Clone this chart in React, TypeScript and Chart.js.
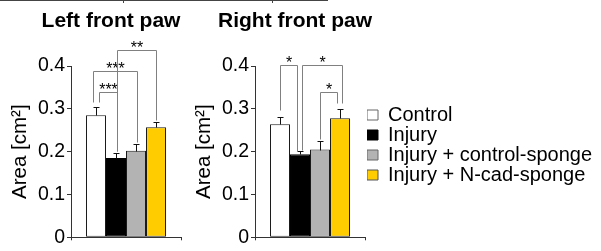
import React, { useEffect, useRef } from 'react';
import { Chart, registerables } from 'chart.js';

Chart.register(...registerables);

const categories = ['Control', 'Injury', 'Injury + control-sponge', 'Injury + N-cad-sponge'];
const leftMeans = [0.285, 0.185, 0.202, 0.257];
const leftErrors = [0.019, 0.011, 0.017, 0.013];
const rightMeans = [0.264, 0.194, 0.205, 0.278];
const rightErrors = [0.017, 0.008, 0.019, 0.021];
const yTickValues = [0, 0.1, 0.2, 0.3, 0.4];
const yTickLabels = ['0', '0.1', '0.2', '0.3', '0.4'];
const panelTitles = ['Left front paw', 'Right front paw'];
const yAxisTitle = 'Area [cm²]';

// significance brackets: bar indices, leg bottoms and top in data units, label
const leftBrackets = [
  { from: 0, to: 1, fromY: 0.317, toY: 0.202, topY: 0.339, label: '***' },
  { from: 0, to: 2, fromY: 0.317, toY: 0.222, topY: 0.388, label: '***' },
  { from: 1, to: 3, fromY: 0.202, toY: 0.275, topY: 0.437, label: '**' },
];
const rightBrackets = [
  { from: 0, to: 1, fromY: 0.298, toY: 0.202, topY: 0.402, label: '*' },
  { from: 1, to: 3, fromY: 0.203, toY: 0.314, topY: 0.402, label: '*' },
  { from: 2, to: 3, fromY: 0.229, toY: 0.314, topY: 0.339, label: '*' },
];

// styles
const leftNudges = [[3, 1], [-3, 1], [1, 0]];
const rightNudges = [[0, -3], [2, 2], [0, -3]];
const barColors = ['#ffffff', '#000000', '#b3b3b3', '#ffcc00'];
const barBorders = ['#1a1a1a', '#000000', '#1a1a1a', '#1a1a1a'];
const legendBorders = ['#666666', '#000000', '#666666', '#555555'];
const FAMILY = '"Liberation Sans", Arial, Helvetica, sans-serif';
const AXIS = '#333333';
const BRACKET = '#808080';

type Bracket = { from: number; to: number; fromY: number; toY: number; topY: number; label: string };

function makeOverlay(means: number[], errors: number[], brackets: Bracket[], nudges: number[][], title: string) {
  return {
    id: 'overlay',
    afterDatasetsDraw(chart: any) {
      const ctx = chart.ctx as CanvasRenderingContext2D;
      const ys = chart.scales.y;
      const px = (i: number) => chart.getDatasetMeta(i).data[0].x as number;
      const py = (v: number) => Math.round(ys.getPixelForValue(v)) + 0.5;
      ctx.save();
      ctx.strokeStyle = '#111111';
      ctx.lineWidth = 1;
      means.forEach((m, i) => {
        const x = Math.round(px(i)) + 0.5;
        const y0 = py(m);
        const y1 = py(m + errors[i]);
        ctx.beginPath();
        ctx.moveTo(x, y0);
        ctx.lineTo(x, y1);
        ctx.moveTo(x - 3, y1);
        ctx.lineTo(x + 3, y1);
        ctx.stroke();
      });
      brackets.forEach((b, k) => {
        const x1 = Math.round(px(b.from) + nudges[k][0]) + 0.5;
        const x2 = Math.round(px(b.to) + nudges[k][1]) + 0.5;
        const yt = py(b.topY);
        ctx.strokeStyle = BRACKET;
        ctx.beginPath();
        ctx.moveTo(x1, py(b.fromY));
        ctx.lineTo(x1, yt);
        ctx.lineTo(x2, yt);
        ctx.lineTo(x2, py(b.toY));
        ctx.stroke();
        ctx.fillStyle = '#000000';
        ctx.font = `16px ${FAMILY}`;
        ctx.textAlign = 'center';
        ctx.textBaseline = 'alphabetic';
        ctx.fillText(b.label, (x1 + x2) / 2, yt + 2);
      });
      ctx.restore();
    },
    afterDraw(chart: any) {
      const ctx = chart.ctx as CanvasRenderingContext2D;
      const area = chart.chartArea;
      ctx.save();
      ctx.fillStyle = '#000000';
      ctx.font = `bold 21px ${FAMILY}`;
      ctx.textAlign = 'center';
      ctx.textBaseline = 'alphabetic';
      ctx.fillText(title, (area.left + area.right) / 2 - 15, 27);
      ctx.restore();
    },
  };
}

function buildConfig(means: number[], errors: number[], brackets: Bracket[], nudges: number[][], title: string): any {
  return {
    type: 'bar',
    data: {
      labels: [''],
      datasets: categories.map((c, i) => ({
        label: c,
        data: [means[i]],
        backgroundColor: barColors[i],
        borderColor: barBorders[i],
        borderWidth: 1,
        borderSkipped: false,
        categoryPercentage: 0.727,
        barPercentage: 1,
      })),
    },
    options: {
      animation: false,
      responsive: false,
      maintainAspectRatio: false,
      layout: { padding: { top: 66, bottom: -1, left: 0, right: 19 } },
      plugins: {
        legend: { display: false },
        tooltip: { enabled: false },
        title: { display: false },
      },
      scales: {
        x: {
          type: 'category',
          grid: { display: true, drawOnChartArea: false, tickLength: 3, color: AXIS, offset: true },
          ticks: { display: false },
          border: { display: true, color: AXIS },
        },
        y: {
          min: 0,
          max: 0.4,
          afterBuildTicks: (s: any) => {
            s.ticks = yTickValues.map((v) => ({ value: v }));
          },
          afterFit: (s: any) => {
            s.width = 71;
          },
          ticks: {
            callback: (_v: any, i: number) => yTickLabels[i],
            color: '#000000',
            padding: 2,
            font: { size: 19.5, family: FAMILY },
          },
          grid: { drawOnChartArea: false, tickLength: 4, color: AXIS },
          border: { display: true, color: AXIS },
          title: {
            display: true,
            text: yAxisTitle,
            color: '#000000',
            font: { size: 20.5, family: FAMILY },
            padding: { top: 8, bottom: 0 },
          },
        },
      },
    },
    plugins: [makeOverlay(means, errors, brackets, nudges, title)],
  };
}

function legendConfig(): any {
  return {
    type: 'bar',
    data: { labels: [], datasets: [] },
    options: {
      animation: false,
      responsive: false,
      maintainAspectRatio: false,
      layout: { padding: { top: 105, left: 0, right: 0, bottom: 0 } },
      scales: { x: { display: false }, y: { display: false } },
      plugins: {
        tooltip: { enabled: false },
        legend: {
          display: true,
          position: 'left',
          align: 'start',
          onClick: () => {},
          labels: {
            boxWidth: 11,
            boxHeight: 10,
            padding: 0,
            color: '#000000',
            font: { size: 20, family: FAMILY },
            generateLabels: () =>
              categories.map((c, i) => ({
                text: c,
                fillStyle: barColors[i],
                strokeStyle: legendBorders[i],
                lineWidth: 1,
                hidden: false,
                index: i,
                fontColor: '#000000',
              })),
          },
        },
      },
    },
  };
}

export default function App() {
  const leftRef = useRef<HTMLCanvasElement | null>(null);
  const rightRef = useRef<HTMLCanvasElement | null>(null);
  const legendRef = useRef<HTMLCanvasElement | null>(null);

  useEffect(() => {
    const left = new Chart(leftRef.current as HTMLCanvasElement, buildConfig(leftMeans, leftErrors, leftBrackets, leftNudges, panelTitles[0]));
    const right = new Chart(rightRef.current as HTMLCanvasElement, buildConfig(rightMeans, rightErrors, rightBrackets, rightNudges, panelTitles[1]));
    const legend = new Chart(legendRef.current as HTMLCanvasElement, legendConfig());
    return () => {
      left.destroy();
      right.destroy();
      legend.destroy();
    };
  }, []);

  return (
    <div style={{ position: 'absolute', left: 0, top: 0, width: 601, height: 251, background: '#ffffff', overflow: 'hidden' }}>
      <div style={{ position: 'absolute', left: 0, top: 0, width: 328, height: 1, background: '#444444' }} />
      <div style={{ position: 'absolute', left: 123, top: 0, width: 1, height: 3, background: '#444444' }} />
      <div style={{ position: 'absolute', left: 272, top: 0, width: 1, height: 3, background: '#444444' }} />
      <canvas ref={leftRef} width={200} height={251} style={{ position: 'absolute', left: 0, top: 0, width: 200, height: 251 }} />
      <canvas ref={rightRef} width={200} height={251} style={{ position: 'absolute', left: 184, top: 0, width: 200, height: 251 }} />
      <canvas ref={legendRef} width={520} height={251} style={{ position: 'absolute', left: 367, top: 0, width: 520, height: 251 }} />
    </div>
  );
}
